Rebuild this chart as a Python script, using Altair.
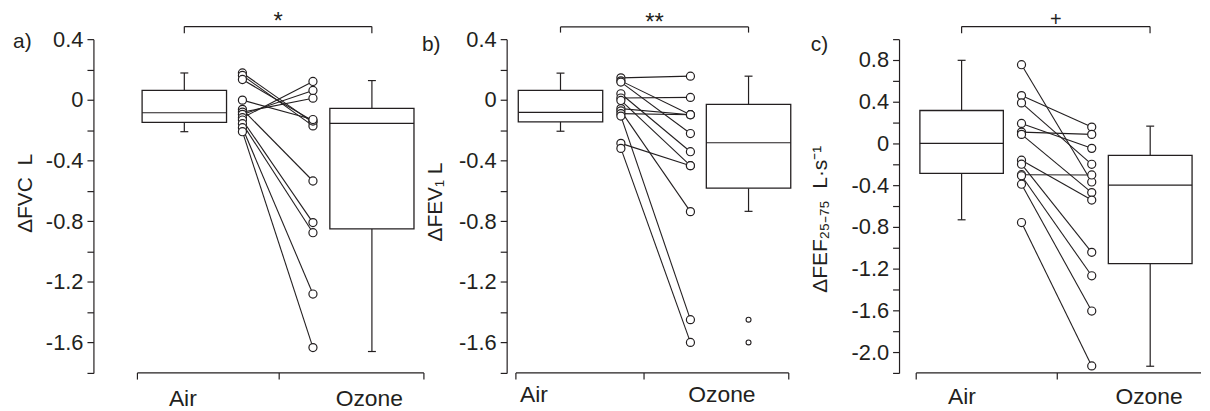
import altair as alt
import pandas as pd

# ---------------- data ----------------
groups = ["Air", "Ozone"]

# a) FVC, paired subjects (same order in both lists)
fvc_air = [0.177, 0.161, 0.134, -0.002, -0.063, -0.081, -0.096, -0.118, -0.133, -0.157, -0.184, -0.210]
fvc_ozone = [-0.150, -0.172, -0.140, -0.130, -0.535, 0.011, 0.062, 0.121, -0.809, -0.876, -1.280, -1.633]
# box stats: whisker high, upper quartile, median, lower quartile, whisker low
fvc_air_box = [0.177, 0.062, -0.085, -0.148, -0.210]
fvc_ozone_box = [0.127, -0.056, -0.155, -0.850, -1.659]
fvc_ozone_outliers = []

# b) FEV1
fev1_air = [0.145, 0.125, 0.117, 0.040, 0.012, -0.004, -0.058, -0.073, -0.091, -0.107, -0.287, -0.320]
fev1_ozone = [0.156, -0.098, -0.222, -0.342, 0.016, -0.434, -0.098, -0.737, -0.098, -1.449, -0.434, -1.599]
fev1_air_box = [0.176, 0.062, -0.083, -0.145, -0.207]
fev1_ozone_box = [0.156, -0.030, -0.283, -0.582, -0.735]
fev1_ozone_outliers = [-1.449, -1.599]

# c) FEF25-75
fef_air = [0.755, 0.459, 0.389, 0.192, 0.109, 0.087, -0.161, -0.199, -0.300, -0.310, -0.391, -0.758]
fef_ozone = [-0.369, 0.157, -0.200, -0.047, 0.087, -0.471, -0.543, -1.044, -0.302, -1.269, -1.607, -2.133]
fef_air_box = [0.797, 0.316, 0.000, -0.286, -0.732]
fef_ozone_box = [0.166, -0.114, -0.400, -1.152, -2.136]
fef_ozone_outliers = []

ticks_ab = [0.4, 0.2, 0.0, -0.2, -0.4, -0.6, -0.8, -1.0, -1.2, -1.4, -1.6, -1.8]
ticks_c = [1.0, 0.8, 0.6, 0.4, 0.2, 0.0, -0.2, -0.4, -0.6, -0.8, -1.0, -1.2, -1.4, -1.6, -1.8, -2.0, -2.2]

titles = ["\u0394FVC\u00a0\u00a0L", "\u0394FEV\u2081 L",
          "\u0394FEF\u2082\u2085\u208b\u2087\u2085\u00a0\u00a0L\u00b7s\u207b\u00b9"]
letters = ["a)", "b)", "c)"]
signif = ["*", "**", "+"]

# ---------------- style / layout ----------------
INK = "#231f20"
REG = "Liberation Sans, Arial, sans-serif"
PLOT_H = 336
CAP = 4

LAYOUT_A = dict(width=416, axis=[44.3, 332.7], ticks=[44.3, 187, 332.7], air_box=[49, 134], air_pts=150,
                oz_pts=221, oz_box=[238, 322.7], lab=[90, 277.7], lab_dy=33.4, bracket=[91.5, 280.3],
                br_y=-12.7, br_drop=-6, sig_y=-17.7, sig_base="middle", sig_size=24,
                letter=(-71.5, 3.3), title=(-68.2, 155.3))
LAYOUT_B = dict(width=395, axis=[9.3, 284], ticks=[9.3, 138.3, 284], air_box=[11.7, 96.7], air_pts=115,
                oz_pts=185, oz_box=[201, 286], lab=[27.5, 216.7], lab_dy=29.3, bracket=[54.2, 243.5],
                br_y=-12.3, br_drop=-6.6, sig_y=-16.6, sig_base="middle", sig_size=24,
                letter=(-76, 6), title=(-71, 164))
LAYOUT_C = dict(width=304, axis=[17.3, 304], ticks=[17.3, 159.3], air_box=[21, 105], air_pts=123.3,
                oz_pts=194, oz_box=[210.7, 295], lab=[63.3, 251.7], lab_dy=31.3, bracket=[63, 252.7],
                br_y=-12.7, br_drop=-6, sig_y=-13.7, sig_base="alphabetic", sig_size=20,
                letter=(-80, 5.6), title=(-79, 181.3))

LABEL_EXPR = ("abs(round(datum.value * 10)) % 4 == 0 ? (datum.value == 0 ? '0' : "
              "replace(format(datum.value, '.1f'), '\u2212', '-')) : ''")


def one(**kw):
    return pd.DataFrame({k: [v] for k, v in kw.items()})


def build_panel(air, ozone, air_box, oz_box, outliers, ydom, yticks, L, ytitle, letter, sig, anchor=False):
    W, H = L["width"], PLOT_H
    xs = alt.Scale(domain=[0, W], nice=False, zero=False)
    ys = alt.Scale(domain=ydom, nice=False, zero=False)
    yax = alt.Axis(values=yticks, labelExpr=LABEL_EXPR, title=None, grid=False,
                   domain=True, domainColor=INK, domainWidth=1.2,
                   ticks=True, tickColor=INK, tickWidth=1.2, tickSize=6.5,
                   labelFont=REG, labelFontSize=22, labelColor=INK, labelPadding=4,
                   labelOverlap=False)

    def X(f):
        return alt.X(f, type="quantitative", scale=xs, axis=None)

    def Y(f):
        return alt.Y(f, type="quantitative", scale=ys, axis=yax)

    boxes = pd.DataFrame({
        "group": groups,
        "left": [L["air_box"][0], L["oz_box"][0]],
        "right": [L["air_box"][1], L["oz_box"][1]],
        "hi": [air_box[0], oz_box[0]],
        "q3": [air_box[1], oz_box[1]],
        "med": [air_box[2], oz_box[2]],
        "q1": [air_box[3], oz_box[3]],
        "lo": [air_box[4], oz_box[4]],
    })
    boxes["mid"] = (boxes["left"] + boxes["right"]) / 2
    boxes["c1"] = boxes["mid"] - CAP
    boxes["c2"] = boxes["mid"] + CAP

    rows = []
    for i, (a, o) in enumerate(zip(air, ozone)):
        rows.append({"s": i, "x": L["air_pts"], "v": a})
        rows.append({"s": i, "x": L["oz_pts"], "v": o})
    pairs = pd.DataFrame(rows)

    base_b = alt.Chart(boxes)
    layers = [
        base_b.mark_rule(color=INK, strokeWidth=1.2).encode(x=X("mid"), y=Y("hi"), y2=alt.Y2("q3")),
        base_b.mark_rule(color=INK, strokeWidth=1.2).encode(x=X("mid"), y=Y("q1"), y2=alt.Y2("lo")),
        base_b.mark_rule(color=INK, strokeWidth=1.2).encode(x=X("c1"), x2=alt.X2("c2"), y=Y("hi")),
        base_b.mark_rule(color=INK, strokeWidth=1.2).encode(x=X("c1"), x2=alt.X2("c2"), y=Y("lo")),
        base_b.mark_rect(fill="white", stroke=INK, strokeWidth=1.3).encode(
            x=X("left"), x2=alt.X2("right"), y=Y("q3"), y2=alt.Y2("q1")),
        base_b.mark_rule(color=INK, strokeWidth=1.2).encode(x=X("left"), x2=alt.X2("right"), y=Y("med")),
        alt.Chart(pairs).mark_line(color=INK, strokeWidth=1.1).encode(x=X("x"), y=Y("v"), detail="s:N"),
        alt.Chart(pairs).mark_point(shape="circle", filled=True, fill="white", stroke=INK,
                                    strokeWidth=1.2, size=66, opacity=1).encode(x=X("x"), y=Y("v")),
    ]
    if outliers:
        out_df = pd.DataFrame({"x": [L["oz_box"][0] / 2 + L["oz_box"][1] / 2] * len(outliers), "v": outliers})
        layers.append(alt.Chart(out_df).mark_point(shape="circle", filled=True, fill="white", stroke=INK,
                                                   strokeWidth=1.1, size=25, opacity=1).encode(x=X("x"), y=Y("v")))

    # hand-drawn category axis (offset from the y axis, as in the figure)
    layers += [
        alt.Chart(one(x=L["axis"][0], x2=L["axis"][1])).mark_rule(color=INK, strokeWidth=1.2).encode(
            x=X("x"), x2=alt.X2("x2"), y=alt.value(H)),
        alt.Chart(pd.DataFrame({"x": L["ticks"]})).mark_rule(color=INK, strokeWidth=1.2).encode(
            x=X("x"), y=alt.value(H), y2=alt.value(H + 6.7)),
        alt.Chart(pd.DataFrame({"x": L["lab"], "t": groups})).mark_text(
            font=REG, fontSize=23, color=INK, align="center", baseline="alphabetic").encode(
            x=X("x"), y=alt.value(H + L["lab_dy"]), text="t:N"),
    ]

    # significance bracket
    b0, b1 = L["bracket"]
    layers += [
        alt.Chart(one(x=b0, x2=b1)).mark_rule(color=INK, strokeWidth=1.2).encode(
            x=X("x"), x2=alt.X2("x2"), y=alt.value(L["br_y"])),
        alt.Chart(pd.DataFrame({"x": [b0, b1]})).mark_rule(color=INK, strokeWidth=1.2).encode(
            x=X("x"), y=alt.value(L["br_y"]), y2=alt.value(L["br_drop"])),
        alt.Chart(one(x=(b0 + b1) / 2, t=sig)).mark_text(
            font=REG, fontSize=L["sig_size"], color=INK, align="center", baseline=L["sig_base"]).encode(
            x=X("x"), y=alt.value(L["sig_y"]), text="t:N"),
    ]

    # panel letter and y title
    layers += [
        alt.Chart(one(t=letter)).mark_text(font=REG, fontSize=21, color=INK, align="center",
                                           baseline="middle").encode(
            x=alt.value(L["letter"][0]), y=alt.value(L["letter"][1]), text="t:N"),
        alt.Chart(one(t=ytitle)).mark_text(font=REG, fontSize=21, color=INK, align="center",
                                           baseline="middle", angle=270).encode(
            x=alt.value(L["title"][0]), y=alt.value(L["title"][1]), text="t:N"),
    ]
    if anchor:
        layers.append(alt.Chart(one(k=0)).mark_rule(opacity=0, strokeWidth=0).encode(
            x=alt.value(-86), x2=alt.value(-86), y=alt.value(-29.7), y2=alt.value(-29.7)))

    return alt.layer(*layers).properties(width=W, height=H)


pa = build_panel(fvc_air, fvc_ozone, fvc_air_box, fvc_ozone_box, fvc_ozone_outliers,
                 [-1.8, 0.4], ticks_ab, LAYOUT_A, titles[0], letters[0], signif[0], anchor=True)
pb = build_panel(fev1_air, fev1_ozone, fev1_air_box, fev1_ozone_box, fev1_ozone_outliers,
                 [-1.8, 0.4], ticks_ab, LAYOUT_B, titles[1], letters[1], signif[1])
pc = build_panel(fef_air, fef_ozone, fef_air_box, fef_ozone_box, fef_ozone_outliers,
                 [-2.2, 1.0], ticks_c, LAYOUT_C, titles[2], letters[2], signif[2])

chart = alt.hconcat(pa, pb, pc, spacing=0, bounds="flush").configure_view(stroke=None).properties(
    padding={"left": 0, "top": 0, "right": 0, "bottom": 0}, background="white")

chart.save("out.html", embed_options={"renderer": "svg", "actions": False})
